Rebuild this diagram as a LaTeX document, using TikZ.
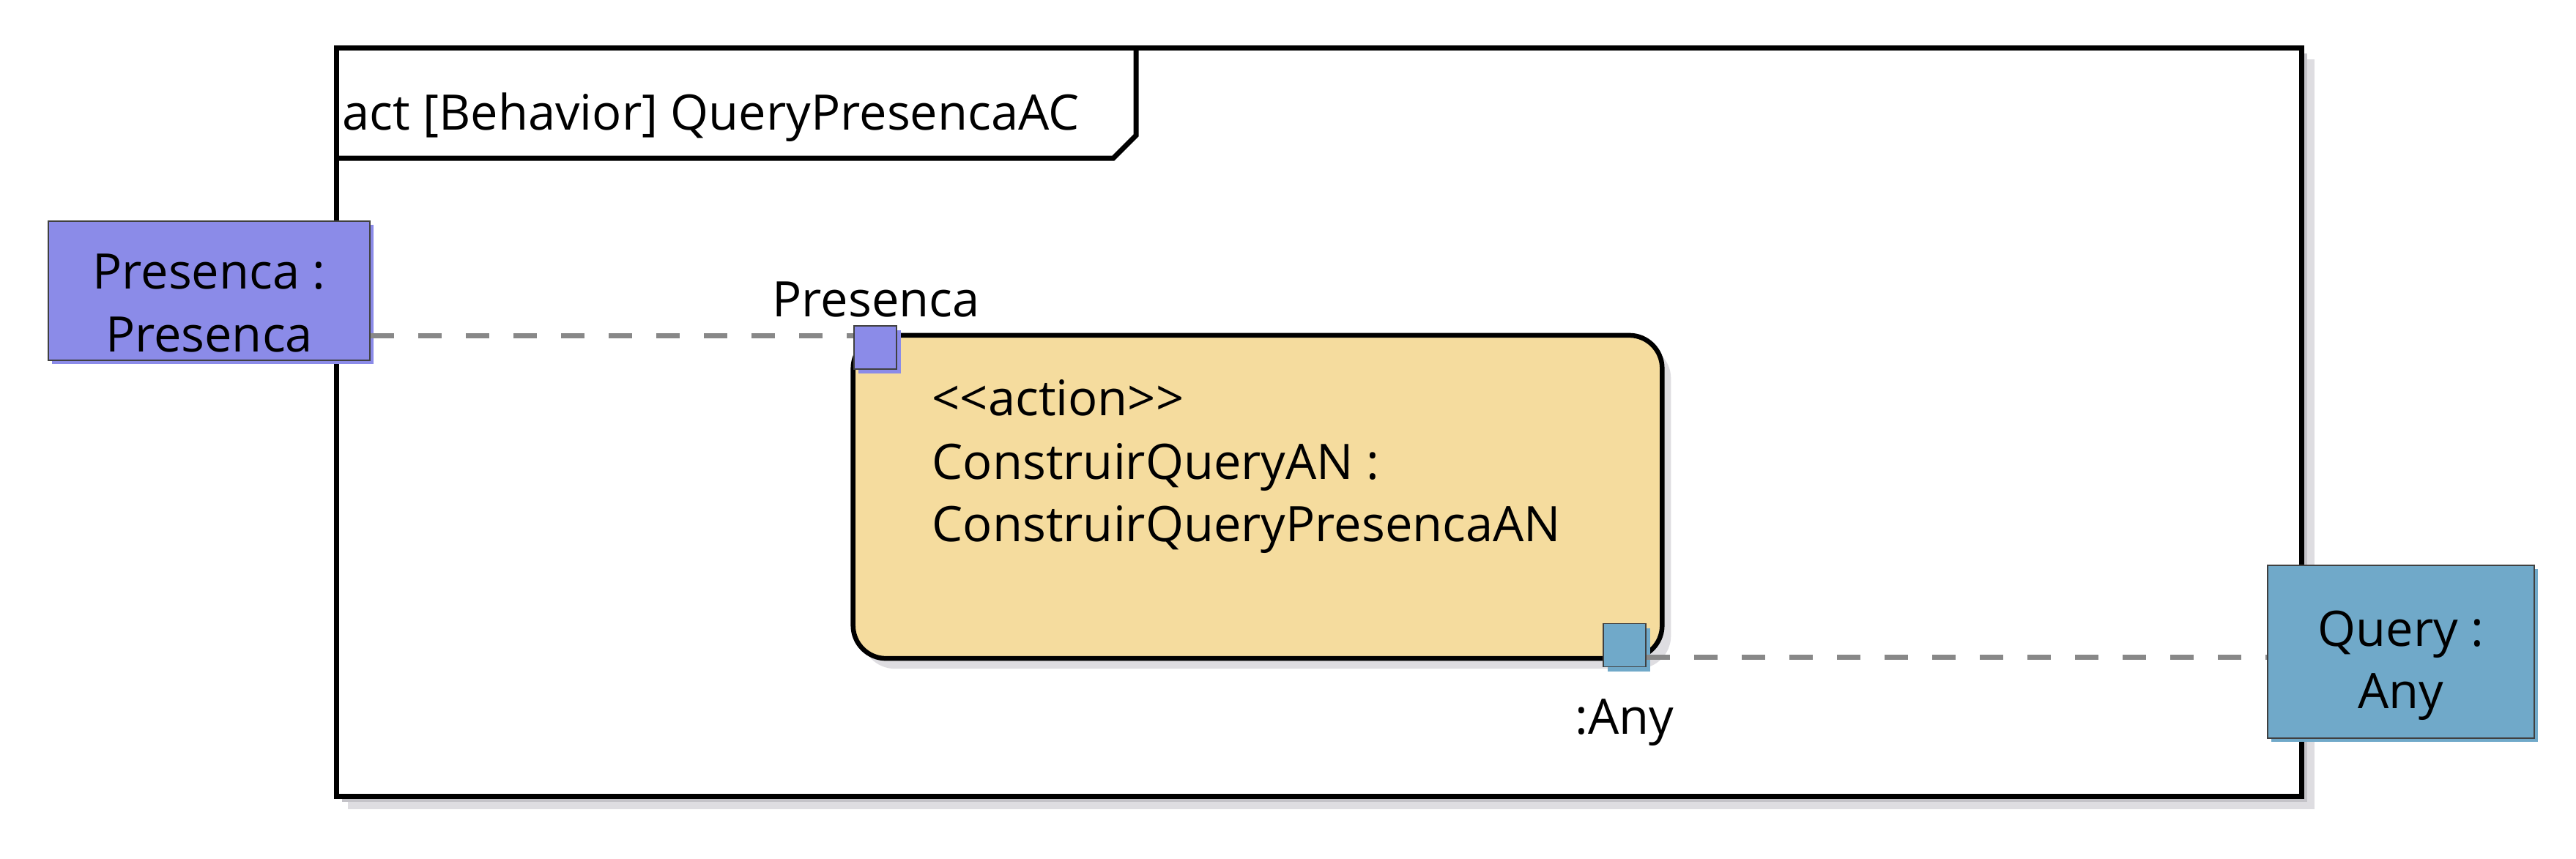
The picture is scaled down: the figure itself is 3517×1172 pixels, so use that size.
\documentclass[tikz,border=0pt]{standalone}
\usepackage{fontspec}
\setmainfont{Open Sans}
\usetikzlibrary{shadows}
\definecolor{presFill}{HTML}{8B8BE8}
\definecolor{queryFill}{HTML}{70A9C9}
\definecolor{actFill}{HTML}{F5DC9E}
\definecolor{flowGray}{HTML}{888888}
\definecolor{shadeA}{HTML}{C4C3C8}
\definecolor{shadeB}{HTML}{DEDDE1}
\tikzset{
  objbox/.style={draw=black!75, line width=0.5pt, fill=#1, inner sep=0pt,
    general shadow={fill=#1, shadow xshift=0.05cm, shadow yshift=-0.05cm}},
  pinbox/.style={draw=black!75, line width=0.5pt, fill=#1, inner sep=0pt,
    minimum width=0.58cm, minimum height=0.59cm,
    general shadow={fill=#1, shadow xshift=0.06cm, shadow yshift=-0.06cm}},
  actbox/.style={draw, line width=0.065cm, fill=actFill, rounded corners=0.45cm,
    inner sep=0pt, general shadow={fill=shadeB, shadow xshift=0.12cm, shadow yshift=-0.14cm}},
  flow/.style={draw=flowGray, line width=0.07cm, dash pattern=on 0.32cm off 0.33cm},
  lbl/.style={font=\fontsize{19}{24.2}\selectfont, inner sep=0pt},
}
\begin{document}
\begin{tikzpicture}[x=0.01cm, y=-0.01cm]
  \useasboundingbox (0,0) rectangle (3517,1172);
  % frame with its shadow
  \fill[shadeB] (475,81) rectangle (3160,1105);
  \fill[shadeA] (467,73) rectangle (3150,1095);
  \draw[line width=0.07cm, fill=white] (459,65) rectangle (3142,1087);
  \draw[line width=0.07cm] (459,216) -- (1520,216) -- (1551,185) -- (1551,65);
  \node[lbl, anchor=base west] (frameTitle) at (467,177) {act [Behavior] QueryPresencaAC};

  % action
  \node[actbox, minimum width=11.04cm, minimum height=4.41cm] (actNode) at (1717,678.5) {};
  \node[lbl, anchor=base west] (actStereo) at (1272,567) {<{}<action>{}>};
  \node[lbl, anchor=base west] (actName) at (1272,654) {ConstruirQueryAN :};
  \node[lbl, anchor=base west] (actType) at (1272,739) {ConstruirQueryPresencaAN};

  % object nodes
  \node[objbox=presFill, minimum width=4.39cm, minimum height=1.9cm] (presObj) at (285.5,397) {};
  \node[lbl, align=center] (presTxt) at ([yshift=-0.17cm]presObj.center) {Presenca :\\Presenca};
  \node[objbox=queryFill, minimum width=3.64cm, minimum height=2.36cm] (queryObj) at (3278,890) {};
  \node[lbl, align=center] (queryTxt) at ([yshift=-0.19cm]queryObj.center) {Query :\\Any};

  % pins
  \node[pinbox=presFill] (pinPres) at (1195,474.5) {};
  \node[pinbox=queryFill] (pinAny) at (2218,881) {};
  \node[lbl, anchor=base] (pinPresLbl) at (1196,432) {Presenca};
  \node[lbl, anchor=base] (pinAnyLbl) at (2218,1002) {:Any};

  % object flows
  \coordinate (flowA) at (0,458);
  \coordinate (flowB) at (0,897);
  \draw[flow] (presObj.east |- flowA) -- (pinPres.west |- flowA);
  \draw[flow] (pinAny.east |- flowB) -- (queryObj.west |- flowB);
\end{tikzpicture}
\end{document}
